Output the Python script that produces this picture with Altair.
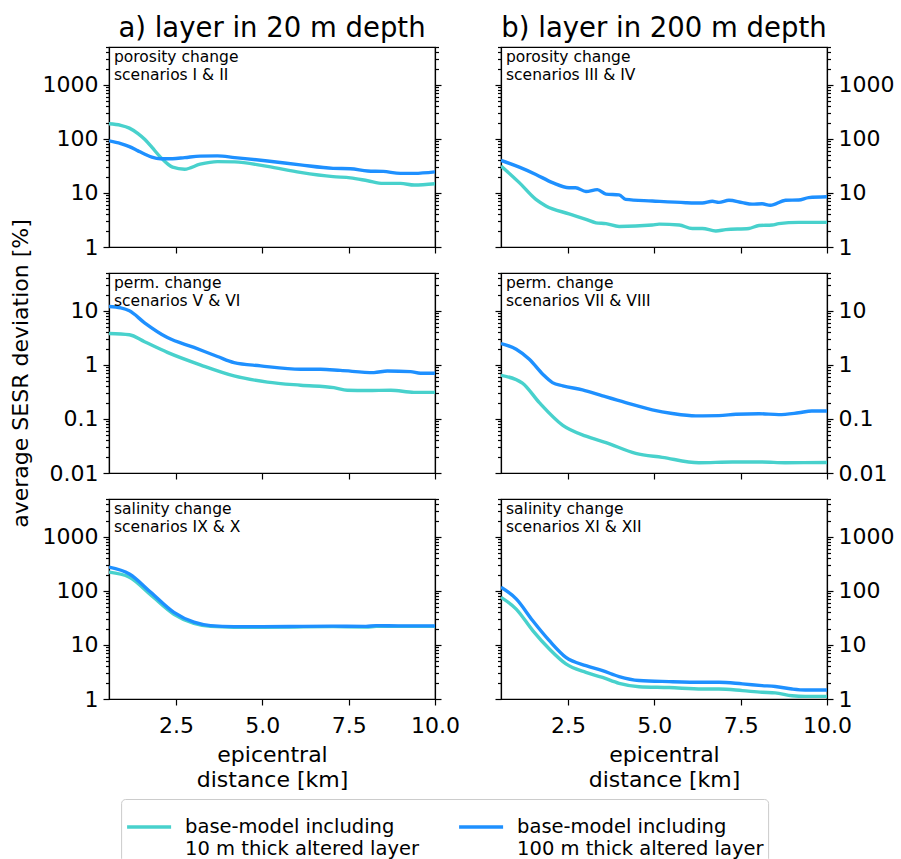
import altair as alt
import pandas as pd

FONT = "DejaVu Sans"

models = ["base-model including\n10 m thick altered layer",
          "base-model including\n100 m thick altered layer"]
colors = ["#48D1CC", "#1E90FF"]
col_titles = ["a) layer in 20 m depth", "b) layer in 200 m depth"]
panel_notes = ["porosity change\nscenarios I & II", "porosity change\nscenarios III & IV",
               "perm. change\nscenarios V & VI", "perm. change\nscenarios VII & VIII",
               "salinity change\nscenarios IX & X", "salinity change\nscenarios XI & XII"]
x_title = ["epicentral", "distance [km]"]
y_title = "average SESR deviation [%]"
x_ticks = [2.5, 5.0, 7.5, 10.0]
x_domain = [0.56, 10.0]
y_domains = [[1, 5000], [0.01, 50], [1, 5000]]
y_majors = [[1, 10, 100, 1000], [0.01, 0.1, 1, 10], [1, 10, 100, 1000]]

# panel a) porosity
p0_x = [0.56, 0.9, 1.15, 1.4, 1.6, 1.8, 2.05, 2.4, 2.75, 3.2, 3.7, 4.2, 5.15, 6.1, 7.05, 7.55, 8.05, 8.5, 9.0, 9.4, 10.0]
p0_10 = [190, 178, 158, 125, 97, 70, 46, 30, 27.5, 34, 38, 37.5, 31, 24, 20, 19, 16.8, 15, 15, 14, 14.8]
p0_100 = [92, 82, 72, 60, 52, 46, 43, 43, 45, 48, 48.5, 45, 39, 33, 28.5, 28, 25.5, 25, 23, 23, 24.5]
# panel b) porosity
p1_x10 = [0.56, 1.09, 1.57, 1.86, 2.53, 3.02, 3.31, 3.6, 3.98, 4.94, 5.14, 5.72, 6.1, 6.39, 6.78, 7.07, 7.74, 8.03, 8.41, 8.6, 9.18, 10.0]
p1_10 = [31.6, 15.5, 7.6, 5.75, 4.1, 3.25, 2.8, 2.7, 2.4, 2.55, 2.65, 2.55, 2.2, 2.2, 1.98, 2.1, 2.2, 2.5, 2.55, 2.7, 2.85, 2.85]
p1_x100 = [0.56, 1.09, 1.57, 2.05, 2.53, 2.72, 3.02, 3.35, 3.6, 3.98, 4.17, 4.94, 5.91, 6.39, 6.68, 6.87, 7.16, 7.55, 7.83, 8.12, 8.36, 8.8, 9.18, 9.47, 10.0]
p1_100 = [40, 30, 22, 15.5, 12.5, 12.5, 10.6, 11.5, 9.5, 9.2, 7.6, 7.1, 6.6, 6.5, 7.0, 6.7, 7.3, 6.6, 6.2, 6.3, 5.9, 7.3, 7.4, 8.2, 8.5]
# panel a) permeability
p2_x10 = [0.56, 1.15, 1.59, 2.25, 3.22, 4.18, 5.15, 6.11, 7.07, 7.46, 8.04, 8.72, 9.39, 10.0]
p2_10 = [3.8, 3.6, 2.67, 1.7, 0.99, 0.625, 0.48, 0.42, 0.38, 0.34, 0.335, 0.34, 0.31, 0.31]
p2_x100 = [0.56, 0.9, 1.15, 1.59, 2.25, 3.02, 3.7, 4.18, 4.95, 6.11, 6.69, 7.26, 8.23, 8.62, 9.29, 9.58, 10.0]
p2_100 = [12, 11.3, 10, 6.0, 3.2, 2.1, 1.43, 1.1, 0.96, 0.83, 0.83, 0.79, 0.72, 0.77, 0.75, 0.70, 0.70]
# panel b) permeability
p3_x10 = [0.56, 1.18, 1.67, 2.35, 3.02, 3.6, 4.46, 5.23, 6.29, 7.26, 8.12, 8.79, 10.0]
p3_10 = [0.64, 0.46, 0.2, 0.076, 0.048, 0.0365, 0.0231, 0.0195, 0.0155, 0.016, 0.016, 0.0155, 0.0156]
p3_x100 = [0.56, 1.0, 1.38, 1.77, 2.05, 2.35, 2.92, 3.5, 4.17, 4.94, 5.52, 6.2, 6.87, 7.36, 8.03, 8.6, 9.18, 9.56, 10.0]
p3_100 = [2.48, 1.95, 1.27, 0.67, 0.47, 0.41, 0.345, 0.267, 0.2, 0.147, 0.126, 0.114, 0.115, 0.122, 0.125, 0.12, 0.13, 0.14, 0.14]
# panel a) salinity
p4_x = [0.56, 1.15, 1.77, 2.44, 3.02, 3.5, 4.18, 5.0, 6.0, 7.0, 8.0, 8.3, 9.0, 10.0]
p4_10 = [222, 179, 84, 37, 25, 22, 21.3, 21.3, 21.5, 21.8, 21.5, 22, 22, 22]
p4_100 = [275, 205, 94, 40, 26.3, 22.8, 21.8, 21.8, 22, 22.3, 22, 22.8, 22.5, 22.5]
# panel b) salinity
p5_x = [0.56, 1.0, 1.48, 1.96, 2.44, 3.02, 3.5, 3.98, 4.56, 5.43, 6.39, 6.87, 7.55, 8.12, 8.5, 8.99, 9.37, 10.0]
p5_10 = [76, 46, 18.4, 8.4, 4.45, 3.1, 2.5, 1.95, 1.69, 1.63, 1.53, 1.53, 1.43, 1.33, 1.3, 1.15, 1.12, 1.12]
p5_100 = [117, 71, 28, 12, 5.9, 4.14, 3.35, 2.6, 2.2, 2.1, 2.04, 2.04, 1.9, 1.77, 1.7, 1.53, 1.47, 1.47]

series = [
    (0, p0_x, p0_10, p0_x, p0_100),
    (1, p1_x10, p1_10, p1_x100, p1_100),
    (2, p2_x10, p2_10, p2_x100, p2_100),
    (3, p3_x10, p3_10, p3_x100, p3_100),
    (4, p4_x, p4_10, p4_x, p4_100),
    (5, p5_x, p5_10, p5_x, p5_100),
]
rows = []
for pid, xa, ya, xb, yb in series:
    for i, (xv, yv) in enumerate(zip(xa, ya)):
        rows.append({"panel": pid, "model": models[0], "x": xv, "y": yv, "o": i})
    for i, (xv, yv) in enumerate(zip(xb, yb)):
        rows.append({"panel": pid, "model": models[1], "x": xv, "y": yv, "o": i})
df = pd.DataFrame(rows)
notes_df = pd.DataFrame({"panel": list(range(6)), "note": panel_notes})


def tick_values(domain):
    lo, hi = domain
    vals = []
    for m in range(-3, 5):
        for k in range(1, 10):
            v = float(f"{k}e{m}")
            if lo * 0.999 <= v <= hi * 1.001:
                vals.append(v)
    return vals


MAJOR_TEST = "abs(log(datum.value)/LN10 - round(log(datum.value)/LN10)) < 0.001"
tick_size = {"condition": {"test": MAJOR_TEST, "value": 6}, "value": 3.5}
label_expr = f"({MAJOR_TEST}) ? format(datum.value, '~g') : ''"

W, H = 326, 200

legend = alt.Legend(
    title=None, orient="none", legendX=12.1, legendY=752,
    direction="horizontal", columns=2,
    symbolType="stroke", symbolSize=1936, symbolStrokeWidth=3.5,
    labelFont=FONT, labelFontSize=19.5, labelColor="black", labelLimit=0,
    labelExpr="split(datum.label, '\\n')", labelOffset=12, columnPadding=33,
    padding=4, strokeColor="#cccccc", cornerRadius=4, fillColor="white",
    labelBaseline="middle",
)


def panel(idx):
    row, col = divmod(idx, 2)
    d = df[df.panel == idx]
    ticks = tick_values(y_domains[row])
    yscale = alt.Scale(type="log", domain=y_domains[row], nice=False)
    xscale = alt.Scale(domain=x_domain, nice=False, zero=False)
    bottom = row == 2
    xaxis_kw = dict(values=x_ticks, format=".1f", labels=bottom, labelFlush=False,
                    tickSize=6, labelPadding=10, orient="bottom")
    if bottom:
        xaxis_kw.update(title=x_title, titlePadding=8, titleLineHeight=25)
    else:
        xaxis_kw.update(title=None)
    xaxis = alt.Axis(**xaxis_kw)
    main_orient = "left" if col == 0 else "right"
    other_orient = "right" if col == 0 else "left"
    ymain_kw = dict(orient=main_orient, values=ticks, labelExpr=label_expr,
                    tickSize=tick_size, labelFlush=False, labelOverlap=False,
                    labelPadding=5)
    if row == 1 and col == 0:
        ymain_kw.update(title=y_title, titlePadding=17)
    else:
        ymain_kw.update(title=None)
    lines = alt.Chart(d).mark_line(strokeWidth=3.4, interpolate="monotone", clip=True).encode(
        x=alt.X("x:Q", scale=xscale, axis=xaxis),
        y=alt.Y("y:Q", scale=yscale, axis=alt.Axis(**ymain_kw)),
        color=alt.Color("model:N", scale=alt.Scale(domain=models, range=colors), legend=legend),
        order="o:Q",
    )
    dummy = alt.Chart(d).mark_line(opacity=0).encode(
        x=alt.X("x:Q", scale=xscale, axis=xaxis),
        y=alt.Y("y:Q", scale=yscale,
                axis=alt.Axis(orient=other_orient, values=ticks, labels=False,
                              tickSize=tick_size, title=None)),
        detail="model:N",
    )
    note = alt.Chart(notes_df[notes_df.panel == idx]).mark_text(
        align="left", baseline="top", font=FONT, fontSize=15.5, lineBreak="\n",
        lineHeight=18, color="black",
    ).encode(x=alt.value(5), y=alt.value(3), text="note:N")
    ch = alt.layer(lines, dummy, note).resolve_axis(y="independent").properties(width=W, height=H)
    if row == 0:
        ch = ch.properties(title=alt.TitleParams(col_titles[col], font=FONT, fontSize=27.5,
                                                  fontWeight="normal", color="black",
                                                  anchor="middle", offset=-6))
    return ch


chart = alt.concat(*[panel(i) for i in range(6)], columns=2,
                   spacing={"row": 26, "column": 66}, bounds="flush").configure_view(
    stroke="black", strokeWidth=1.2
).configure_axis(
    grid=False, domainColor="black", domainWidth=1.2, tickColor="black", tickWidth=1.2,
    labelFont=FONT, labelFontSize=22, labelColor="black",
    titleFont=FONT, titleFontSize=22, titleFontWeight="normal", titleColor="black",
).properties(padding={"left": 8, "top": 13, "right": 5, "bottom": 5}, background="white")

chart.save("out.html", embed_options={"renderer": "svg", "actions": False})
